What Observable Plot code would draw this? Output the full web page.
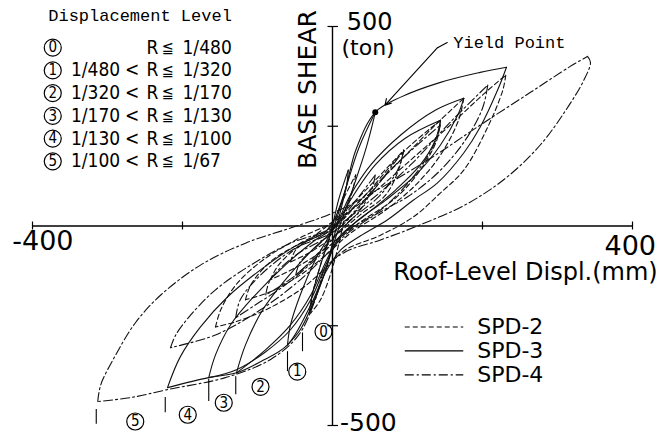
<!DOCTYPE html>
<html><head><meta charset="utf-8">
<script src="https://cdn.jsdelivr.net/npm/d3@7"></script>
<script src="https://cdn.jsdelivr.net/npm/@observablehq/plot@0.6"></script>
<style>body{margin:0;background:#fff}</style>
</head><body><div id="chart"></div>
<script>
// ---- Hysteresis loops: [Roof-level displacement (mm), Base shear (ton)] ----
// SPD-3 (solid)
const spd3_L4_up = [[-220,-405],[-203,-328],[-176,-253],[-140,-178],[-96,-110],[-52,-53],[-7,-10],[15,78],[31,190],[57,285],[91,323],[144,360],[197,385],[232,398]];
const spd3_L4_dn = [[232,398],[220,340],[197,248],[175,183],[140,108],[108,65],[73,15],[37,-25],[11,-60],[-9,-115],[-29,-198],[-60,-298],[-96,-340],[-128,-368],[-165,-380],[-220,-405]];
const spd3_L3_up = [[-165,-380],[-156,-323],[-136,-248],[-103,-173],[-63,-98],[-23,-35],[1,-5],[24,78],[51,153],[91,228],[137,290],[175,320]];
const spd3_L3_dn = [[175,320],[167,278],[144,203],[111,128],[71,65],[31,10],[8,-35],[-9,-98],[-29,-185],[-56,-260],[-89,-315],[-128,-360],[-165,-380]];
const spd3_L2_up = [[-128,-368],[-116,-298],[-93,-210],[-63,-135],[-27,-60],[1,-10],[24,65],[57,153],[97,220],[144,265]];
const spd3_L2_dn = [[144,265],[137,215],[117,153],[84,90],[44,28],[11,-23],[-9,-90],[-29,-173],[-56,-248],[-89,-310],[-128,-368]];
const spd3_L1_up = [[-60,-298],[-56,-248],[-43,-173],[-23,-85],[1,-5],[17,90],[35,195],[57,285]];
const spd3_L1_dn = [[57,285],[53,253],[44,190],[31,115],[17,40],[4,-30],[-9,-110],[-27,-198],[-43,-260],[-60,-298]];
const spd3_L0_up = [[-31,-218],[-27,-173],[-16,-98],[-3,-23],[8,65],[21,140]];
const spd3_L0_dn = [[21,140],[19,103],[11,40],[1,-35],[-9,-110],[-21,-173],[-31,-218]];
// SPD-2 (dashed)
const spd2_L4_up = [[-156,-253],[-149,-210],[-129,-148],[-96,-90],[-49,-35],[1,10],[51,78],[104,165],[157,253],[204,335],[231,378]];
const spd2_L4_dn = [[231,378],[227,340],[207,248],[175,140],[144,83],[108,23],[64,-23],[17,-60],[-9,-105],[-43,-160],[-89,-210],[-129,-240],[-156,-253]];
const spd2_L3_up = [[-116,-185],[-109,-148],[-83,-90],[-43,-43],[1,0],[44,78],[91,165],[137,253],[175,320]];
const spd2_L3_dn = [[175,320],[168,265],[144,178],[111,103],[71,40],[24,-18],[-9,-73],[-43,-123],[-83,-165],[-116,-185]];
const spd2_L2_up = [[-83,-135],[-72,-98],[-43,-48],[1,-5],[44,78],[97,190],[144,265]];
const spd2_L2_dn = [[144,265],[139,215],[117,140],[84,70],[37,10],[-3,-48],[-43,-98],[-83,-135]];
const spd2_L1_up = [[-56,-90],[-49,-60],[-23,-23],[11,28],[51,103],[95,190]];
const spd2_L1_dn = [[95,190],[88,140],[71,78],[37,28],[4,-23],[-29,-65],[-56,-90]];
const spd2_L0_up = [[-29,-218],[-27,-173],[-16,-98],[-3,-23],[11,53],[31,128]];
const spd2_L0_dn = [[31,128],[27,90],[17,28],[8,-48],[-3,-123],[-16,-185],[-29,-218]];
// SPD-4 (dash-dot)
const spd4_L5_up = [[-313,-440],[-309,-398],[-289,-323],[-263,-243],[-229,-173],[-176,-98],[-116,-43],[-56,-5],[1,33],[64,95],[131,170],[197,253],[264,335],[317,400],[340,425]];
const spd4_L5_dn = [[340,425],[344,410],[335,365],[311,290],[277,203],[231,120],[177,53],[117,3],[64,-35],[17,-65],[-9,-105],[-23,-185],[-45,-273],[-83,-335],[-143,-380],[-220,-410],[-269,-430],[-313,-440]];
const spd4_L4_up = [[-216,-305],[-209,-273],[-189,-223],[-156,-160],[-109,-98],[-56,-43],[1,-5],[51,65],[104,153],[157,260],[207,353]];
const spd4_L4_dn = [[207,353],[200,295],[177,215],[144,140],[104,78],[57,28],[17,-23],[-9,-73],[-43,-135],[-96,-210],[-156,-273],[-216,-305]];
const spd4_L3_up = [[-129,-230],[-123,-185],[-96,-123],[-49,-55],[1,-15],[37,53],[84,153],[144,253]];
const spd4_L3_dn = [[144,253],[133,195],[104,115],[64,40],[17,-15],[-16,-73],[-63,-148],[-103,-198],[-129,-230]];
const spd4_L2_up = [[-89,-173],[-83,-135],[-49,-73],[1,-18],[44,65],[95,190]];
const spd4_L2_dn = [[95,190],[88,145],[64,78],[24,15],[-9,-48],[-49,-123],[-89,-173]];
const spd4_L1_up = [[-49,-123],[-43,-90],[-19,-48],[11,15],[37,78],[57,128]];
const spd4_L1_dn = [[57,128],[53,95],[37,40],[11,-10],[-19,-73],[-49,-123]];

const yieldPoint = [57, 285];

// Axis ticks / labels
const xTicks = [-400, -200, 200, 400];
const yTicks = [-500, -250, 250, 500];

// Legend: displacement levels (digit drawn inside a circle)
const levelDigits = ["0","1","2","3","4","5"];
const levelLower  = ["", "1/480","1/320","1/170","1/130","1/100"];
const levelUpper  = ["1/480","1/320","1/170","1/130","1/100","1/67"];
// Negative-peak markers for each level (mm) and marker labels
const markerX      = [-40, -60, -129, -165, -223, -315];
const markerTop    = [-268, -315, -378, -385, -430, -460];
const markerBottom = [-315, -365, -423, -440, -468, -497];
const markerLabelX = [-12, -47, -96, -145, -193, -263];
const markerLabelY = [-265, -365, -403, -443, -473, -490];

// Series legend
const seriesNames = ["SPD-2", "SPD-3", "SPD-4"];

// ---- build tables ----
const loops = {
  "SPD-3": [spd3_L4_up, spd3_L4_dn, spd3_L3_up, spd3_L3_dn, spd3_L2_up, spd3_L2_dn, spd3_L1_up, spd3_L1_dn, spd3_L0_up, spd3_L0_dn],
  "SPD-2": [spd2_L4_up, spd2_L4_dn, spd2_L3_up, spd2_L3_dn, spd2_L2_up, spd2_L2_dn, spd2_L1_up, spd2_L1_dn, spd2_L0_up, spd2_L0_dn],
  "SPD-4": [spd4_L5_up, spd4_L5_dn, spd4_L4_up, spd4_L4_dn, spd4_L3_up, spd4_L3_dn, spd4_L2_up, spd4_L2_dn, spd4_L1_up, spd4_L1_dn]
};
function rows(name) {
  const out = [];
  loops[name].forEach((br, i) => br.forEach(([x, y]) => out.push({series: name, id: name + "-" + i, x, y})));
  return out;
}

const SANS = "'DejaVu Sans',sans-serif";
const NARROW = "'DejaVu Sans Condensed','Liberation Sans Narrow','DejaVu Sans',sans-serif";
const MONO = "'Liberation Mono','DejaVu Sans Mono',monospace";

const rowY = levelDigits.map((_, i) => 447 - i * 57);
const legendRows = levelDigits.map((s, i) => ({s, lo: levelLower[i], hi: levelUpper[i], y: rowY[i]}));
const seriesRows = seriesNames.map((n, i) => ({n, y: -253 - i * 60}));
const markers = markerX.map((x, i) => ({x, y1: markerTop[i], y2: markerBottom[i], lx: markerLabelX[i], ly: markerLabelY[i], s: levelDigits[i]}));

const lineOpts = {x: "x", y: "y", z: "id", curve: "catmull-rom", stroke: "#111", strokeWidth: 1.1};
const T = d => d;

const chart = Plot.plot({
  width: 669, height: 440,
  marginLeft: 32, marginRight: 37, marginTop: 26, marginBottom: 15,
  x: {domain: [-400, 400], axis: null},
  y: {domain: [-500, 500], axis: null},
  style: {background: "#fff", color: "#000"},
  marks: [
    // axes
    Plot.ruleY([0], {x1: -400, x2: 400, stroke: "#000", strokeWidth: 1.4}),
    Plot.ruleX([0], {y1: -500, y2: 500, stroke: "#000", strokeWidth: 1.4}),
    Plot.ruleX(xTicks, {y1: -10, y2: 10, stroke: "#000", strokeWidth: 1.2}),
    Plot.ruleY(yTicks, {x1: -6, x2: 8, stroke: "#000", strokeWidth: 1.2}),
    // loops
    Plot.line(rows("SPD-3"), lineOpts),
    Plot.line(rows("SPD-2"), {...lineOpts, strokeDasharray: "5,3"}),
    Plot.line(rows("SPD-4"), {...lineOpts, strokeDasharray: "9,3,2,3"}),
    // yield point
    Plot.dot([yieldPoint], {x: d => d[0], y: d => d[1], r: 3, fill: "#000"}),
    Plot.line([[153, 460], [140, 447]], {x: d => d[0], y: d => d[1], stroke: "#000", strokeWidth: 1.1}),
    Plot.arrow([{x1: 140, y1: 447, x2: 70, y2: 303}], {x1: "x1", y1: "y1", x2: "x2", y2: "y2", stroke: "#000", strokeWidth: 1.1, headLength: 9}),
    Plot.text(["Yield Point"], {x: 161, y: 460, text: T, textAnchor: "start", fontFamily: MONO, fontSize: 17}),
    // axis labels
    Plot.text(["500"], {x: 19, y: 510, text: T, textAnchor: "start", fontFamily: SANS, fontSize: 24}),
    Plot.text(["(ton)"], {x: 12, y: 445, text: T, textAnchor: "start", fontFamily: SANS, fontSize: 22}),
    Plot.text(["-500"], {x: 10, y: -493, text: T, textAnchor: "start", fontFamily: SANS, fontSize: 25}),
    Plot.text(["-400"], {x: -427, y: -38, text: T, textAnchor: "start", fontFamily: SANS, fontSize: 27}),
    Plot.text(["400"], {x: 397, y: -50, text: T, textAnchor: "middle", fontFamily: SANS, fontSize: 27}),
    Plot.text(["Roof-Level Displ.(mm)"], {x: 81, y: -115, text: T, textAnchor: "start", fontFamily: SANS, fontSize: 24}),
    Plot.text(["BASE SHEAR"], {x: -33, y: 342, text: T, rotate: -90, fontFamily: SANS, fontSize: 25}),
    // displacement level legend
    Plot.text(["Displacement Level"], {x: -379, y: 528, text: T, textAnchor: "start", fontFamily: MONO, fontSize: 17}),
    Plot.dot(legendRows, {x: -373, y: "y", r: 8.5, stroke: "#000", strokeWidth: 1.2, fill: "none"}),
    Plot.text(legendRows, {x: -373, y: "y", text: "s", fontFamily: NARROW, fontSize: 15}),
    Plot.text(legendRows, {x: -283, y: "y", text: "lo", textAnchor: "end", fontFamily: NARROW, fontSize: 19}),
    Plot.text(legendRows.filter(d => d.lo), {x: -267, y: "y", text: () => "<", fontFamily: NARROW, fontSize: 19}),
    Plot.text(legendRows, {x: -240, y: "y", text: () => "R", fontFamily: NARROW, fontSize: 19}),
    Plot.text(legendRows, {x: -220, y: "y", text: () => "≦", fontFamily: NARROW, fontSize: 16}),
    Plot.text(legendRows, {x: -200, y: "y", text: "hi", textAnchor: "start", fontFamily: NARROW, fontSize: 19}),
    // level markers
    Plot.ruleX(markers, {x: "x", y1: "y1", y2: "y2", stroke: "#000", strokeWidth: 1.1}),
    Plot.dot(markers, {x: "lx", y: "ly", r: 8.5, stroke: "#000", strokeWidth: 1.2, fill: "none"}),
    Plot.text(markers, {x: "lx", y: "ly", text: "s", fontFamily: NARROW, fontSize: 15}),
    // series legend
    Plot.ruleY(seriesRows.filter(d => d.n === "SPD-2"), {y: "y", x1: 97, x2: 175, stroke: "#000", strokeWidth: 1.1, strokeDasharray: "5,3"}),
    Plot.ruleY(seriesRows.filter(d => d.n === "SPD-3"), {y: "y", x1: 97, x2: 175, stroke: "#000", strokeWidth: 1.3}),
    Plot.ruleY(seriesRows.filter(d => d.n === "SPD-4"), {y: "y", x1: 97, x2: 175, stroke: "#000", strokeWidth: 1.1, strokeDasharray: "9,3,2,3"}),
    Plot.text(seriesRows, {x: 193, y: "y", text: "n", textAnchor: "start", fontFamily: SANS, fontSize: 22})
  ]
});
document.getElementById("chart").append(chart);
</script>
</body></html>
